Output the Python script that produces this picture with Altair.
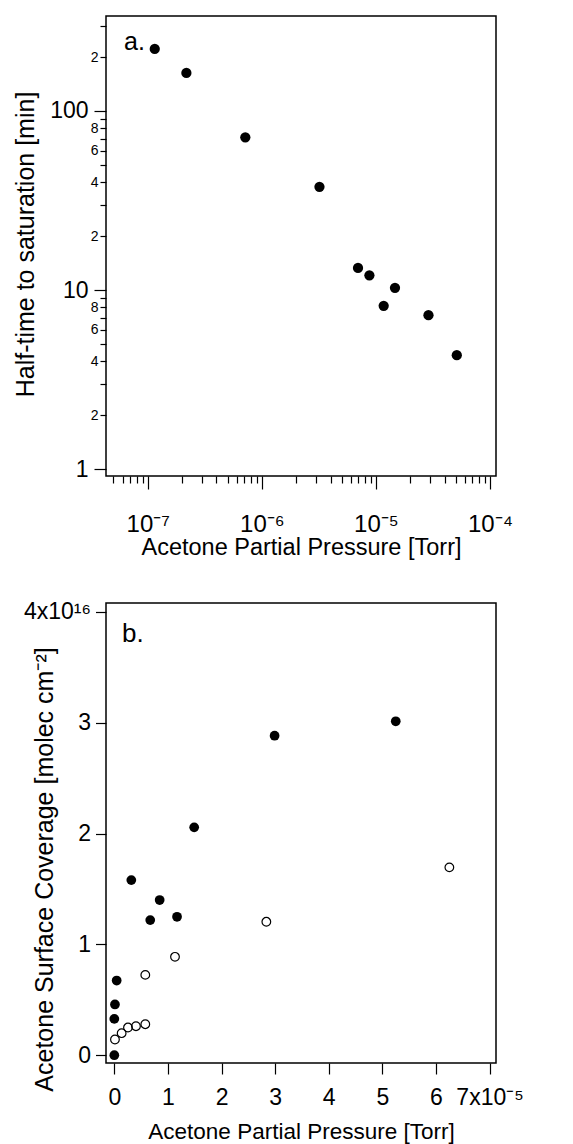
import altair as alt
import pandas as pd

FONT = "Liberation Sans"

# ---------------- Panel a: half-time to saturation vs acetone pressure ----------------
a_pressure = [1.15e-7, 2.18e-7, 7.16e-7, 3.2e-6, 6.97e-6, 8.77e-6, 1.47e-5, 1.17e-5, 2.89e-5, 5.12e-5]
a_halftime = [222, 163, 71.3, 37.7, 13.3, 12.1, 10.3, 8.17, 7.24, 4.33]

# tick positions / labels for panel a
a_x_decades = [1e-7, 1e-6, 1e-5, 1e-4]
a_x_decade_labels = ["10⁻⁷", "10⁻⁶", "10⁻⁵", "10⁻⁴"]
a_x_ticks = [float(f"{m}e{e}") for e in (-8, -7, -6, -5) for m in range(1, 10)
             if 4.3e-8 <= float(f"{m}e{e}") <= 1.13e-4] + [1e-4]
a_y_major = [1, 10, 100]
a_y_minor_labeled = [2, 4, 6, 8, 20, 40, 60, 80, 200]
a_y_ticks = [1, 2, 3, 4, 5, 6, 7, 8, 9, 10, 20, 30, 40, 50, 60, 70, 80, 90, 100, 200, 300]

# ---------------- Panel b: surface coverage vs acetone pressure ----------------
# pressure in units of 1e-5 Torr, coverage in units of 1e16 molec cm-2
b_filled_p = [0.0, 0.0, 0.012, 0.044, 0.317, 0.67, 0.846, 1.17, 1.49, 2.99, 5.25]
b_filled_c = [0.0, 0.328, 0.458, 0.674, 1.58, 1.219, 1.40, 1.249, 2.056, 2.883, 3.013]
b_open_p = [0.012, 0.137, 0.255, 0.404, 0.578, 0.578, 1.132, 2.836, 6.25]
b_open_c = [0.142, 0.199, 0.25, 0.262, 0.28, 0.725, 0.888, 1.204, 1.695]
b_x_ticks = [0, 1, 2, 3, 4, 5, 6, 7]
b_y_ticks = [0, 1, 2, 3, 4]

# ---------------- expressions ----------------
maj_x = " || ".join(f"datum.value == {v!r}" for v in a_x_decades)
x_label_expr = "''"
for v, lab in reversed(list(zip(a_x_decades, a_x_decade_labels))):
    x_label_expr = f"datum.value == {v!r} ? '{lab}' : ({x_label_expr})"

maj_y = " || ".join(f"datum.value == {v}" for v in a_y_major)
y_label_expr = (f"({maj_y}) ? toString(datum.value) : "
                f"(indexof({a_y_minor_labeled}, datum.value) >= 0 ? substring(toString(datum.value), 0, 1) : '')")

df_a = pd.DataFrame({"p": a_pressure, "t": a_halftime})

chart_a = alt.Chart(df_a).mark_circle(size=105, color="black", opacity=1).encode(
    x=alt.X("p:Q",
            scale=alt.Scale(type="log", domain=[4.3e-8, 1.13e-4], nice=False),
            axis=alt.Axis(values=a_x_ticks, labelExpr=x_label_expr,
                          tickSize={"condition": {"test": maj_x, "value": 13}, "value": 7},
                          labelPadding=42, labelBaseline="alphabetic", labelFontSize=24,
                          title="Acetone Partial Pressure [Torr]", titleFontSize=23.5,
                          titleY=78.5, titleBaseline="alphabetic")),
    y=alt.Y("t:Q",
            scale=alt.Scale(type="log", domain=[0.917, 339], nice=False),
            axis=alt.Axis(values=a_y_ticks, labelExpr=y_label_expr,
                          tickSize={"condition": {"test": maj_y, "value": 12}, "value": 6},
                          labelPadding={"condition": {"test": maj_y, "value": 6}, "value": 2},
                          labelFontSize={"condition": {"test": maj_y, "value": 23}, "value": 14},
                          title="Half-time to saturation [min]", titleFontSize=25,
                          titleAngle=270, titleX=-73, titleY=228, titleBaseline="alphabetic")),
).properties(
    width=390, height=460,
    title=alt.TitleParams("a.", anchor="start", frame="group", offset=-59, dx=18,
                          baseline="alphabetic", fontSize=25, fontWeight="normal"),
)

kinds = ["filled"] * len(b_filled_p) + ["open"] * len(b_open_p)
df_b = pd.DataFrame({"p": b_filled_p + b_open_p, "c": b_filled_c + b_open_c, "kind": kinds})

base_b = alt.Chart(df_b).encode(
    x=alt.X("p:Q",
            scale=alt.Scale(domain=[-0.155, 7.12], nice=False, zero=False),
            axis=alt.Axis(values=b_x_ticks,
                          labelExpr="datum.value == 7 ? '7x10⁻⁵' : toString(datum.value)",
                          tickSize=11, labelPadding=30.5, labelBaseline="alphabetic", labelFontSize=23,
                          title="Acetone Partial Pressure [Torr]", titleFontSize=22.5,
                          titleY=75.5, titleBaseline="alphabetic")),
    y=alt.Y("c:Q",
            scale=alt.Scale(domain=[-0.07, 4.08], nice=False, zero=False),
            axis=alt.Axis(values=b_y_ticks,
                          labelExpr="datum.value == 4 ? '4x10¹⁶' : toString(datum.value)",
                          tickSize=10.5, labelPadding=5, labelFontSize=23,
                          title="Acetone Surface Coverage [molec cm⁻²]", titleFontSize=25,
                          titleAngle=270, titleX=-54, titleY=266, titleBaseline="alphabetic")),
)

filled_b = base_b.transform_filter(alt.datum.kind == "filled").mark_circle(
    size=95, color="black", opacity=1)
open_b = base_b.transform_filter(alt.datum.kind == "open").mark_point(
    shape="circle", filled=False, size=75, strokeWidth=1.2, color="black", opacity=1)

chart_b = alt.layer(filled_b, open_b).properties(
    width=390, height=460,
    title=alt.TitleParams("b.", anchor="start", frame="group", offset=-67, dx=16,
                          baseline="alphabetic", fontSize=26, fontWeight="normal"),
)

chart = alt.vconcat(chart_a, chart_b, spacing=127, bounds="flush").configure_view(
    stroke="black", strokeWidth=1.5
).configure_axis(
    grid=False, domain=False, tickColor="black", tickWidth=1.2,
    labelColor="black", titleColor="black", labelFont=FONT, titleFont=FONT,
    titleFontWeight="normal", labelOverlap=False, labelFlush=False, labelBound=False,
).configure_title(
    font=FONT, color="black"
).properties(
    padding={"left": 12, "top": 15, "right": 5, "bottom": 0}
)

chart.save("out.html", embed_options={"renderer": "svg", "actions": False})
